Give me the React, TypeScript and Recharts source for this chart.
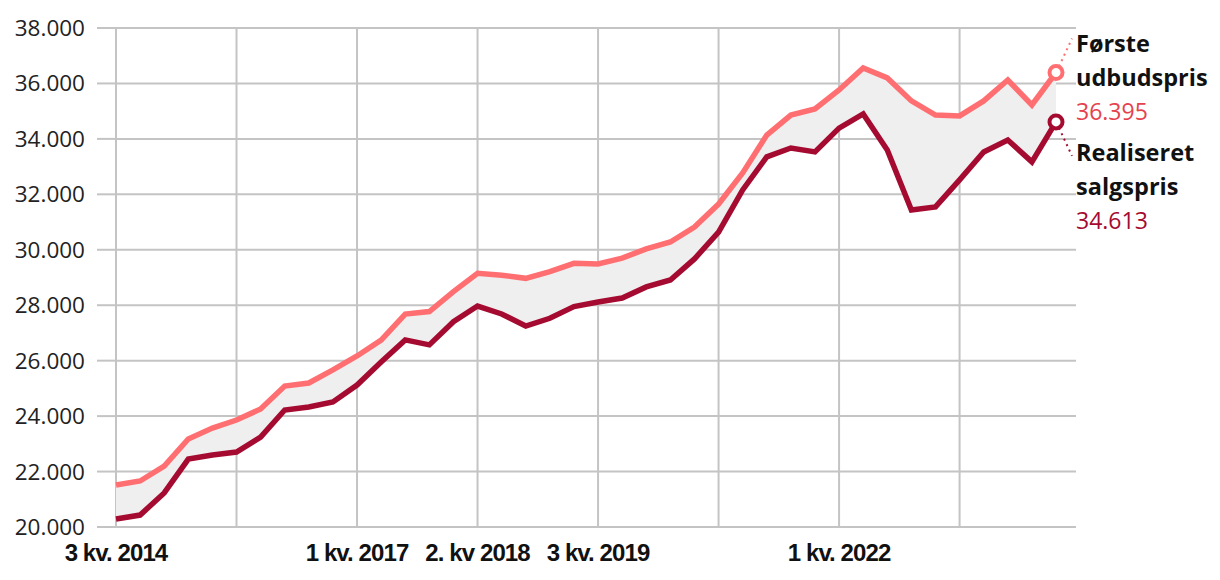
import React from 'react';
import { ComposedChart, Area, Line, XAxis, YAxis, CartesianGrid } from 'recharts';

const quarters = [
    '3 kv. 2014', '4 kv. 2014', '1 kv. 2015', '2 kv. 2015', '3 kv. 2015', '4 kv. 2015', '1 kv. 2016', '2 kv. 2016',
    '3 kv. 2016', '4 kv. 2016', '1 kv. 2017', '2 kv. 2017', '3 kv. 2017', '4 kv. 2017', '1 kv. 2018', '2 kv. 2018',
    '3 kv. 2018', '4 kv. 2018', '1 kv. 2019', '2 kv. 2019', '3 kv. 2019', '4 kv. 2019', '1 kv. 2020', '2 kv. 2020',
    '3 kv. 2020', '4 kv. 2020', '1 kv. 2021', '2 kv. 2021', '3 kv. 2021', '4 kv. 2021', '1 kv. 2022', '2 kv. 2022',
    '3 kv. 2022', '4 kv. 2022', '1 kv. 2023', '2 kv. 2023', '3 kv. 2023', '4 kv. 2023', '1 kv. 2024', '2 kv. 2024',
];

// Første udbudspris
const askingPrice = [
    21515, 21660, 22200, 23175, 23570, 23860, 24255, 25085, 25195, 25665,
    26170, 26745, 27680, 27770, 28490, 29150, 29080, 28970, 29210, 29510,
    29490, 29700, 30030, 30280, 30820, 31650, 32770, 34140, 34860, 35080,
    35765, 36560, 36200, 35370, 34860, 34830, 35370, 36125, 35225, 36395,
];

// Realiseret salgspris
const salePrice = [
    20290, 20430, 21230, 22450, 22600, 22705, 23245, 24220, 24330, 24510,
    25120, 25950, 26750, 26570, 27405, 27970, 27685, 27250, 27530, 27950,
    28115, 28260, 28660, 28910, 29670, 30640, 32160, 33350, 33670, 33530,
    34390, 34900, 33600, 31435, 31545, 32520, 33530, 33960, 33170, 34613,
];

const gridTicks = ['3 kv. 2014', '4 kv. 2015', '1 kv. 2017', '2 kv. 2018', '3 kv. 2019', '4 kv. 2020', '1 kv. 2022', '2 kv. 2023'];
const tickLabels = ['3 kv. 2014', '', '1 kv. 2017', '2. kv 2018', '3 kv. 2019', '', '1 kv. 2022', ''];
const yTicks = [20000, 22000, 24000, 26000, 28000, 30000, 32000, 34000, 36000, 38000];

const UPPER = '#ff6f72';
const LOWER = '#a50b30';
const GRID = '#c4c4c4';
const FONT = '"Open Sans", "Noto Sans", sans-serif';
const PAD_RIGHT = 20;

const fmt = (v: number) => v.toLocaleString('da-DK');

const data = quarters.map((q, i) => ({
    q,
    upper: askingPrice[i],
    lower: salePrice[i],
    range: [salePrice[i], askingPrice[i]],
}));

const last = quarters.length - 1;

const makeEndDot = (color: string, valueColor: string, lines: string[], up: boolean) => (props: any) => {
    const { cx, cy, index, value } = props;
    if (index !== last) return <g key={`d-${index}`} />;
    const dir = up ? -1 : 1;
    const textY = up ? cy - 29 : cy + 31;
    return (
        <g key={`d-${index}`}>
            <circle cx={cx} cy={cy} r={6.5} fill="#fff" stroke={color} strokeWidth={4} />
            <line x1={cx + 3} y1={cy + dir * 6} x2={cx + 16} y2={cy + dir * 34} stroke={color} strokeWidth={2} strokeDasharray="2 4" />
            {lines.map((t, k) => (
                <text key={k} x={cx + 20} y={textY + k * 34} dy="0.35em" fontFamily={FONT} fontSize={23.5} fontWeight={700} fill="#111">
                    {t}
                </text>
            ))}
            <text x={cx + 20} y={textY + lines.length * 34} dy="0.35em" fontFamily={FONT} fontSize={23} fill={valueColor}>
                {fmt(value)}
            </text>
        </g>
    );
};

// vertical gridlines only at the labelled-quarter ticks (no border line on the right)
const verticalLines = (args: any) => {
    const { xAxis, offset } = args || {};
    const s = xAxis?.scale;
    try {
        if (typeof s === 'function') return gridTicks.map((t) => s(t));
        if (s && typeof s.map === 'function') return gridTicks.map((t) => s.map(t));
    } catch (e) {
        // fall through
    }
    const step = (offset.width - PAD_RIGHT) / (quarters.length - 1);
    return gridTicks.map((t) => offset.left + quarters.indexOf(t) * step);
};

export default function App() {
    return (
        <div style={{ position: 'absolute', left: 0, top: 0, width: 1220, height: 580, background: '#fff' }}>
            <ComposedChart width={1220} height={580} data={data} margin={{ top: 28, right: 144, left: 0, bottom: 0 }}>
                <CartesianGrid stroke={GRID} strokeWidth={2} verticalCoordinatesGenerator={verticalLines} />
                <XAxis
                    dataKey="q"
                    ticks={gridTicks}
                    interval={0}
                    padding={{ left: 0, right: PAD_RIGHT }}
                    axisLine={false}
                    tickLine={false}
                    height={53}
                    tickMargin={11}
                    tickFormatter={(v: string) => tickLabels[gridTicks.indexOf(v)] ?? ''}
                    tick={{ fontFamily: '"Liberation Sans", Arial, sans-serif', fontSize: 24, fontWeight: 700, fill: '#111', letterSpacing: -0.9 }}
                />
                <YAxis
                    domain={[20000, 38000]}
                    ticks={yTicks}
                    interval={0}
                    width={116}
                    axisLine={false}
                    tickSize={19}
                    tickMargin={12}
                    tickLine={{ stroke: GRID, strokeWidth: 2 }}
                    tickFormatter={fmt}
                    tick={{ fontFamily: FONT, fontSize: 22.5, fill: '#222' }}
                />
                <Area dataKey="range" stroke="none" fill="#efefef" fillOpacity={1} isAnimationActive={false} />
                <Line
                    dataKey="lower"
                    stroke={LOWER}
                    strokeWidth={5.5}
                    dot={makeEndDot(LOWER, '#a50b30', ['Realiseret', 'salgspris'], false)}
                    activeDot={false}
                    isAnimationActive={false}
                />
                <Line
                    dataKey="upper"
                    stroke={UPPER}
                    strokeWidth={5.5}
                    dot={makeEndDot(UPPER, '#e5424d', ['Første', 'udbudspris'], true)}
                    activeDot={false}
                    isAnimationActive={false}
                />
            </ComposedChart>
        </div>
    );
}
